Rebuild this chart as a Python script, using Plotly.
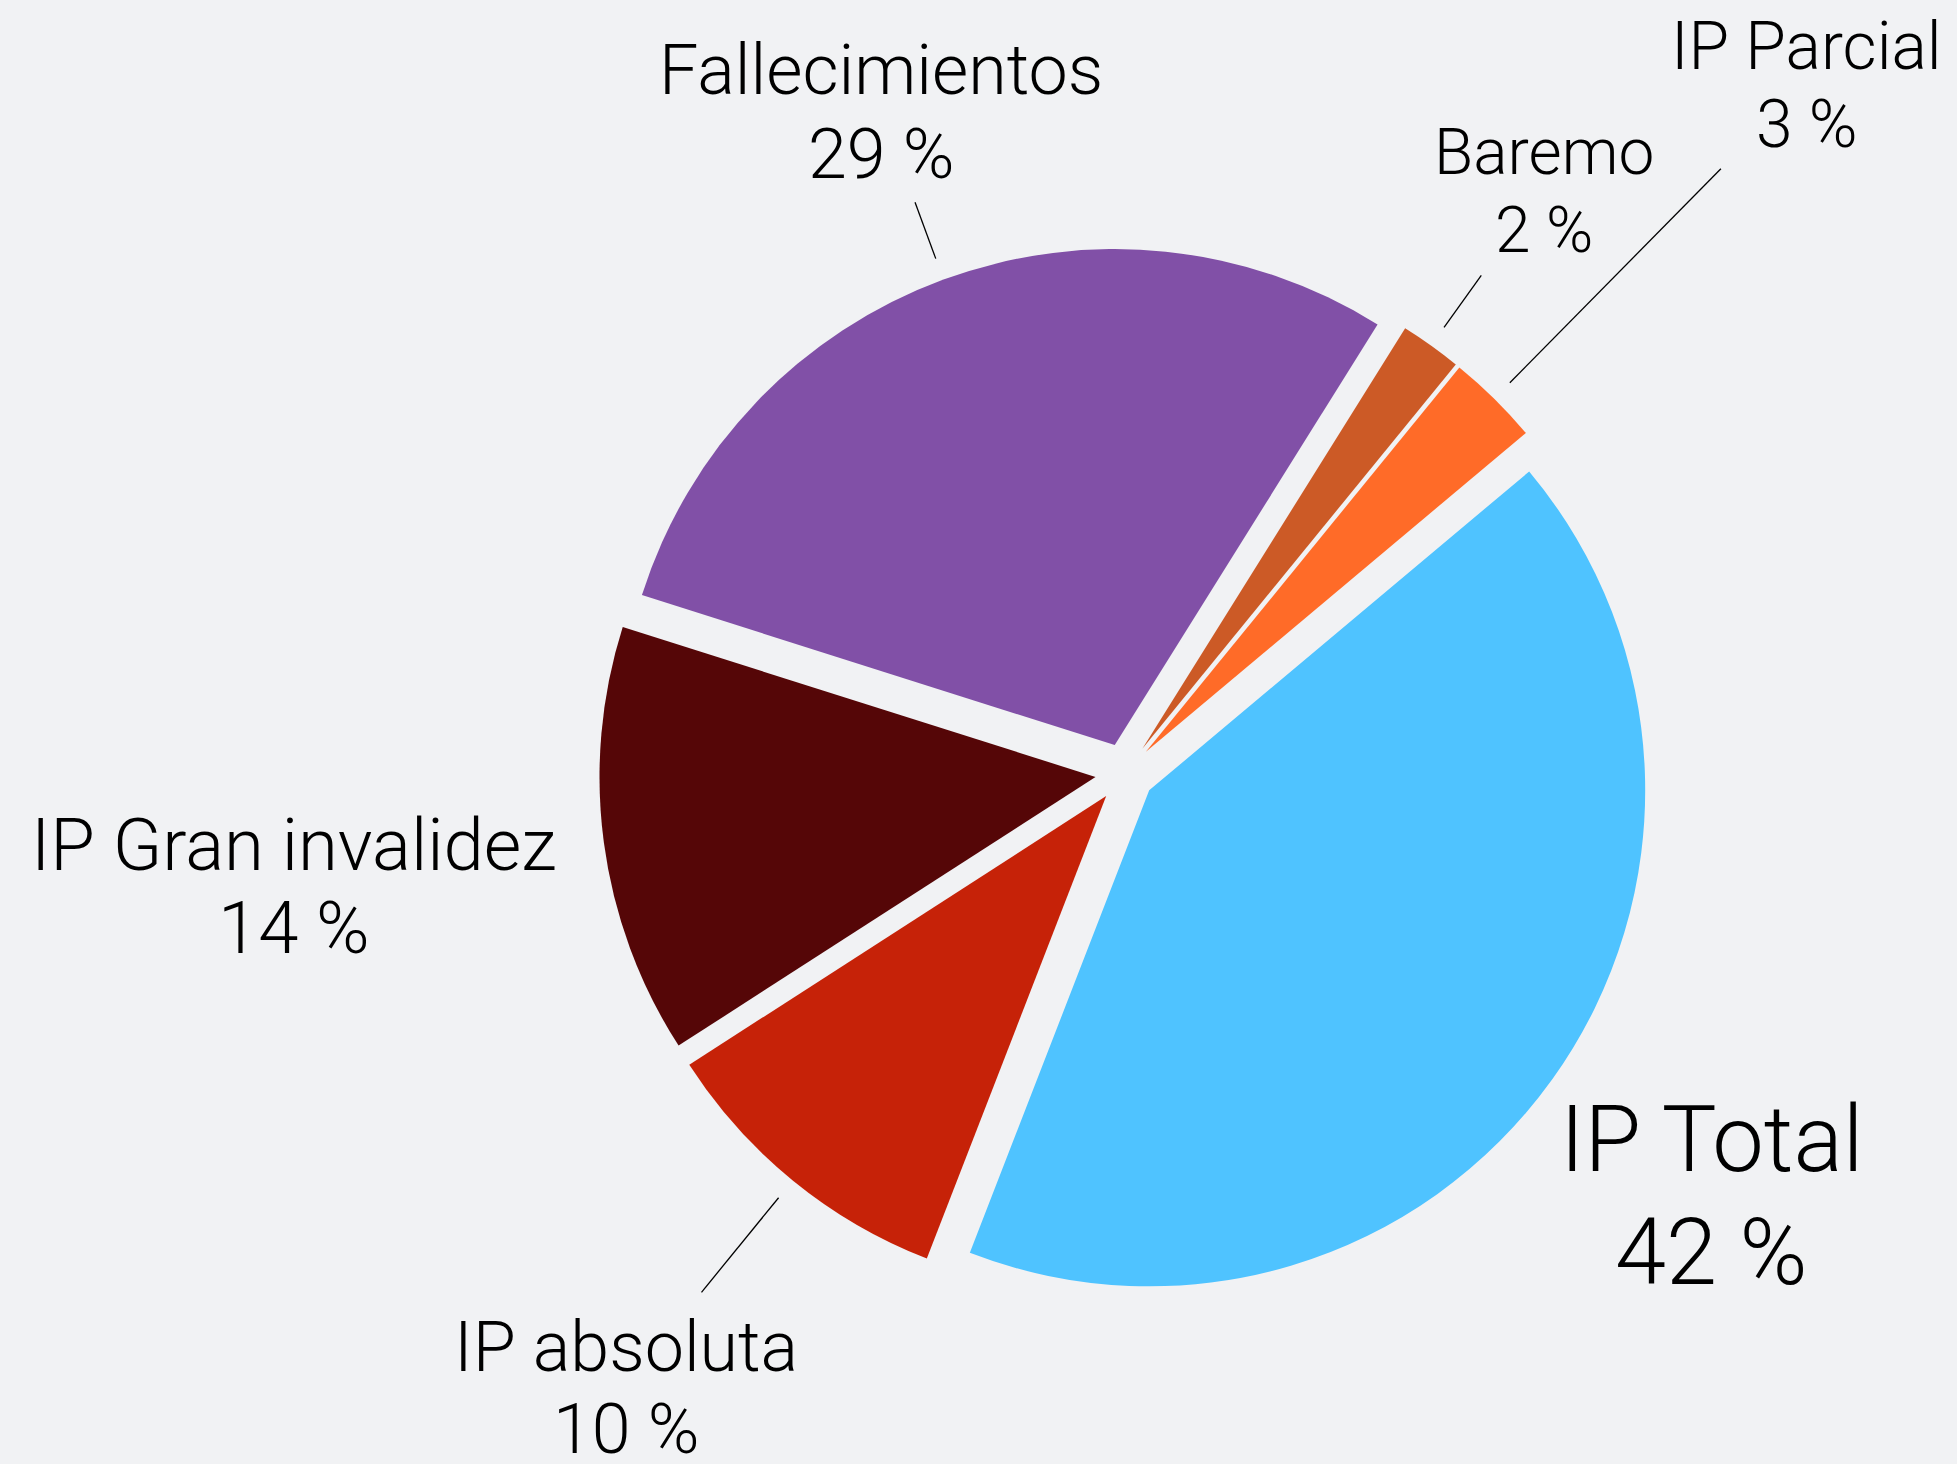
import math
import plotly.graph_objects as go

# ---- data ----
labels = ["IP Total", "IP absoluta", "IP Gran invalidez", "Fallecimientos", "Baremo", "IP Parcial"]
values = [42, 10, 14, 29, 2, 3]
pct_text = ["42 %", "10 %", "14 %", "29 %", "2 %", "3 %"]

# ---- style ----
colors = ["#4FC3FF", "#C62208", "#550607", "#8150A7", "#CC5A26", "#FF6B28"]
W, H = 1957, 1464
CX, CY = 1125, 773          # pie centre in px
R = 496                     # pie radius in px
PULL = 0.06
ROTATION = 50               # degrees clockwise from 12 o'clock
FONT = "Roboto"
font_sizes = [92, 70, 72.5, 70, 64, 66]
line_gaps = [113, 82, 83, 84, 78, 78]
label_r = [1.454, 1.591, 1.691, 1.427, 1.45, 1.956]
leader_r = [None, (1.105, 1.351), None, (1.105, 1.226), (1.105, 1.234), (1.105, 1.711)]
TEXT_DY = 3                 # small vertical nudge of labels (px)
BG = "#F1F2F4"

span = R * (1 + PULL)
fig = go.Figure(go.Pie(
    labels=labels, values=values, sort=False, direction="clockwise",
    rotation=ROTATION, pull=[PULL] * len(values),
    marker=dict(colors=colors, line=dict(width=0)),
    textinfo="none", hoverinfo="label+percent", showlegend=False,
    domain=dict(x=[(CX - span) / W, (CX + span) / W],
                y=[1 - (CY + span) / H, 1 - (CY - span) / H]),
))

total = sum(values)
start = 90 - ROTATION  # math degrees
cum = 0
annotations, shapes = [], []
for i, v in enumerate(values):
    mid = start - 360 * (cum + v / 2) / total
    cum += v
    a = math.radians(mid)
    ux, uy = math.cos(a), -math.sin(a)
    px, py = CX + ux * R * label_r[i], CY + uy * R * label_r[i] + TEXT_DY
    g = line_gaps[i] / 2
    for txt, yy in ((labels[i], py - g), (pct_text[i], py + g)):
        annotations.append(dict(
            x=px / W, y=1 - yy / H, xref="paper", yref="paper",
            text=txt, showarrow=False, xanchor="center", yanchor="middle",
            font=dict(family=FONT, size=font_sizes[i], color="#000000", weight=300),
        ))
    if leader_r[i]:
        r0, r1 = leader_r[i]
        shapes.append(dict(
            type="line", xref="paper", yref="paper",
            x0=(CX + ux * R * r0) / W, y0=1 - (CY + uy * R * r0) / H,
            x1=(CX + ux * R * r1) / W, y1=1 - (CY + uy * R * r1) / H,
            line=dict(color="#000000", width=1.3),
        ))

fig.update_layout(
    width=W, height=H, autosize=False,
    margin=dict(l=0, r=0, t=0, b=0),
    paper_bgcolor=BG, plot_bgcolor=BG,
    annotations=annotations, shapes=shapes,
)
fig.write_html(
    "out.html",
    config={"displayModeBar": False},
    post_script="document.body.style.margin='0';document.body.style.background='%s';" % BG,
)
